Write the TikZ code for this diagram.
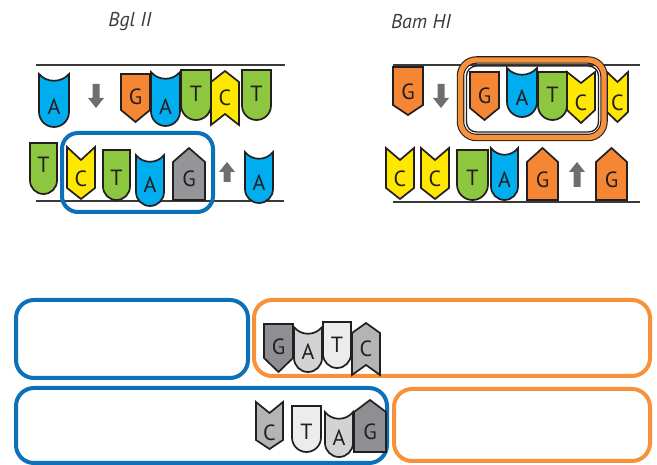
\documentclass[tikz,border=0pt]{standalone}
\usepackage{fontspec}
\setmainfont{PT Sans}
\newfontfamily\basefont{PT Sans}
\definecolor{ink}{HTML}{231F20}
\definecolor{strandline}{HTML}{3A3A3A}
\definecolor{nucA}{HTML}{00AEEF}
\definecolor{nucT}{HTML}{8DC63F}
\definecolor{nucC}{HTML}{FFE800}
\definecolor{nucG}{HTML}{F58634}
\definecolor{nucGgray}{HTML}{939598}
\definecolor{shadeG}{HTML}{8E8F92}
\definecolor{shadeA}{HTML}{D1D3D4}
\definecolor{shadeT}{HTML}{ECECED}
\definecolor{shadeC}{HTML}{B2B4B6}
\definecolor{boxblue}{HTML}{0D71B9}
\definecolor{boxorange}{HTML}{F7923A}
\definecolor{arrowgray}{HTML}{6D6E70}
\definecolor{titlegray}{HTML}{3C3C3C}

\tikzset{
  nuc/.style={draw=ink, line width=1.7pt, line join=miter},
  lbl/.style={font=\basefont\fontsize{22}{22}\selectfont, text=ink, inner sep=0pt},
  ttl/.style={font=\itshape\fontsize{20}{20}\selectfont, text=titlegray, inner sep=0pt},
  strand/.style={draw=strandline, line width=1.5pt},
  arr/.style={fill=arrowgray},
  bluebox/.style={draw=boxblue, line width=4pt, rounded corners=18pt},
  orangebox/.style={draw=boxorange, line width=4pt, rounded corners=18pt},
}

% T: flat top, round bottom.  #1 name, #2 x1, #3 x2, #4 top, #5 bottom, #6 fill, #7 label y
\newcommand{\nucT}[7]{%
  \pgfmathsetmacro\bxm{(#2+#3)/2}%
  \pgfmathsetmacro\brx{(#3-#2)/2}%
  \pgfmathsetmacro\bys{#5-\brx}%
  \pgfmathsetmacro\bk{0.5523*\brx}%
  \draw[nuc,fill=#6] (#2,#4) -- (#3,#4) -- (#3,\bys)
    .. controls (#3,\bys+\bk) and (\bxm+\bk,#5) .. (\bxm,#5)
    .. controls (\bxm-\bk,#5) and (#2,\bys+\bk) .. (#2,\bys) -- cycle;
  \node[lbl] (#1) at (\bxm,#7) {T};
}
% A: hollow top, round bottom
\newcommand{\nucA}[7]{%
  \pgfmathsetmacro\bxm{(#2+#3)/2}%
  \pgfmathsetmacro\brx{(#3-#2)/2}%
  \pgfmathsetmacro\bys{#5-\brx}%
  \pgfmathsetmacro\bk{0.5523*\brx}%
  \pgfmathsetmacro\bq{0.5*\brx}%
  \draw[nuc,fill=#6] (#2,#4) .. controls (#2+\bq,#4+9) and (#3-\bq,#4+9) .. (#3,#4)
    -- (#3,\bys)
    .. controls (#3,\bys+\bk) and (\bxm+\bk,#5) .. (\bxm,#5)
    .. controls (\bxm-\bk,#5) and (#2,\bys+\bk) .. (#2,\bys) -- cycle;
  \node[lbl] (#1) at (\bxm,#7) {A};
}
% G pointing down: #4 top, #5 shoulder, #6 tip
\newcommand{\nucGdown}[8]{%
  \pgfmathsetmacro\bxm{(#2+#3)/2}%
  \draw[nuc,fill=#7] (#2,#4) -- (#3,#4) -- (#3,#5) -- (\bxm,#6) -- (#2,#5) -- cycle;
  \node[lbl] (#1) at (\bxm,#8) {G};
}
% G pointing up: #4 tip, #5 shoulder, #6 base
\newcommand{\nucGup}[8]{%
  \pgfmathsetmacro\bxm{(#2+#3)/2}%
  \draw[nuc,fill=#7] (#2,#6) -- (#3,#6) -- (#3,#5) -- (\bxm,#4) -- (#2,#5) -- cycle;
  \node[lbl] (#1) at (\bxm,#8) {G};
}
% C pointing down: #4 top corners, #5 notch, #6 shoulder, #7 tip
\newcommand{\nucCdown}[9]{%
  \pgfmathsetmacro\bxm{(#2+#3)/2}%
  \draw[nuc,fill=#8] (#2,#4) -- (\bxm,#5) -- (#3,#4) -- (#3,#6) -- (\bxm,#7) -- (#2,#6) -- cycle;
  \node[lbl] (#1) at (\bxm,#9) {C};
}
% C pointing up: #4 tip, #5 shoulder, #6 notch, #7 bottom corners
\newcommand{\nucCup}[9]{%
  \pgfmathsetmacro\bxm{(#2+#3)/2}%
  \draw[nuc,fill=#8] (#2,#7) -- (\bxm,#6) -- (#3,#7) -- (#3,#5) -- (\bxm,#4) -- (#2,#5) -- cycle;
  \node[lbl] (#1) at (\bxm,#9) {C};
}
% block arrows: #1 x, #2 tail y, #3 tip y
\newcommand{\blockdown}[3]{%
  \fill[arr] (#1-3.5,#2) -- (#1+3.5,#2) -- (#1+3.5,#3-10) -- (#1+8,#3-10) -- (#1,#3)
    -- (#1-8,#3-10) -- (#1-3.5,#3-10) -- cycle;
}
\newcommand{\blockup}[3]{%
  \fill[arr] (#1-3.5,#2) -- (#1+3.5,#2) -- (#1+3.5,#3+10) -- (#1+8,#3+10) -- (#1,#3)
    -- (#1-8,#3+10) -- (#1-3.5,#3+10) -- cycle;
}

\begin{document}
\begin{tikzpicture}[x=1pt,y=-1pt]
\useasboundingbox (0,0) rectangle (657,465);

% enzyme names
\node[ttl] (bgl) at (130,22) {Bgl II};
\node[ttl] (bam) at (421,22) {Bam HI};

% ---------------- Bgl II site ----------------
\coordinate (bglTopL) at (36,65);  \coordinate (bglTopR) at (285,65);
\coordinate (bglBotL) at (36,201); \coordinate (bglBotR) at (284,201);
\draw[strand] (bglTopL) -- (bglTopR);
\draw[strand] (bglBotL) -- (bglBotR);

\nucA{b1}{39}{69}{74}{127}{nucA}{107}
\blockdown{96}{84}{108}
\nucGdown{b2}{121}{150}{74}{110}{122}{nucG}{97}
\nucA{b3}{151}{180}{72}{126}{nucA}{107}
\nucT{b4}{181}{211}{70}{120}{nucT}{94}
\nucCup{b5}{211}{239}{71}{82}{114}{125}{nucC}{98}
\nucT{b6}{242}{271}{70}{120}{nucT}{94}

\nucT{c1}{30}{57}{143}{194}{nucT}{165}
\nucCdown{c2}{67}{95}{147}{160}{188}{199}{nucC}{179}
\nucT{c3}{103}{130}{150}{200}{nucT}{178}
\nucA{c4}{136}{164}{155}{206}{nucA}{185}
\nucGup{c5}{173}{205}{148}{162}{200}{nucGgray}{179}
\blockup{227}{182}{162}
\nucA{c6}{245}{273}{152}{203}{nucA}{183}

\draw[bluebox, rounded corners=16pt] (62,133) rectangle (213,212);

% ---------------- Bam HI site ----------------
\coordinate (bamTopL) at (393,65);  \coordinate (bamTopR) at (640,65);
\coordinate (bamBotL) at (393,202); \coordinate (bamBotR) at (640,202);
\draw[strand] (bamTopL) -- (bamTopR);
\draw[strand] (bamBotL) -- (bamBotR);

\nucGdown{d1}{393}{423}{67}{105}{115}{nucG}{92}
\blockdown{441}{84}{108}
\nucGdown{d2}{470}{499}{72}{108}{120}{nucG}{96}
\nucA{d3}{507}{537}{68}{117}{nucA}{98}
\nucT{d4}{538}{567}{72}{120}{nucT}{95}
\nucCdown{d5}{567}{595}{72}{83}{110}{123}{nucC}{103}
\nucCdown{d6}{607}{628}{72}{82}{112}{122}{nucC}{103}

\draw[draw=ink, line width=7.5pt, rounded corners=16pt] (460.5,60) rectangle (604,137.5);
\draw[draw=boxorange, line width=5.3pt, rounded corners=16pt] (460.5,60) rectangle (604,137.5);
\draw[draw=ink, line width=1.3pt, rounded corners=10pt] (466.5,66) rectangle (598.5,132);

\nucCdown{e1}{386}{414}{148}{160}{188}{199}{nucC}{179}
\nucCdown{e2}{421}{449}{148}{160}{188}{199}{nucC}{179}
\nucT{e3}{457}{488}{150}{200}{nucT}{178}
\nucA{e4}{491}{518}{148}{200}{nucA}{180}
\nucGup{e5}{527}{558}{148}{162}{200}{nucG}{180}
\blockup{577}{187}{162}
\nucGup{e6}{596}{627}{148}{162}{200}{nucG}{180}

% ---------------- ligated product ----------------
\draw[bluebox] (16,300) rectangle (248,378);
\draw[orangebox] (254,300) rectangle (650,376);
\draw[bluebox] (16,388) rectangle (387,463);
\draw[orangebox] (394,389) rectangle (650,461);

\nucGdown{f1}{264}{293}{324}{358}{372}{shadeG}{347}
\nucA{f2}{294}{322}{327}{372}{shadeA}{352}
\nucT{f3}{323}{351}{322}{368}{shadeT}{345}
\nucCup{f4}{352}{380}{323}{333}{365}{375}{shadeC}{349}

\nucCdown{g1}{256}{283}{402}{413}{440}{449}{shadeC}{433}
\nucT{g2}{292}{321}{406}{452}{shadeT}{432}
\nucA{g3}{325}{353}{412}{457}{shadeA}{438}
\nucGup{g4}{354}{386}{400}{412}{452}{shadeG}{432}
\end{tikzpicture}
\end{document}
